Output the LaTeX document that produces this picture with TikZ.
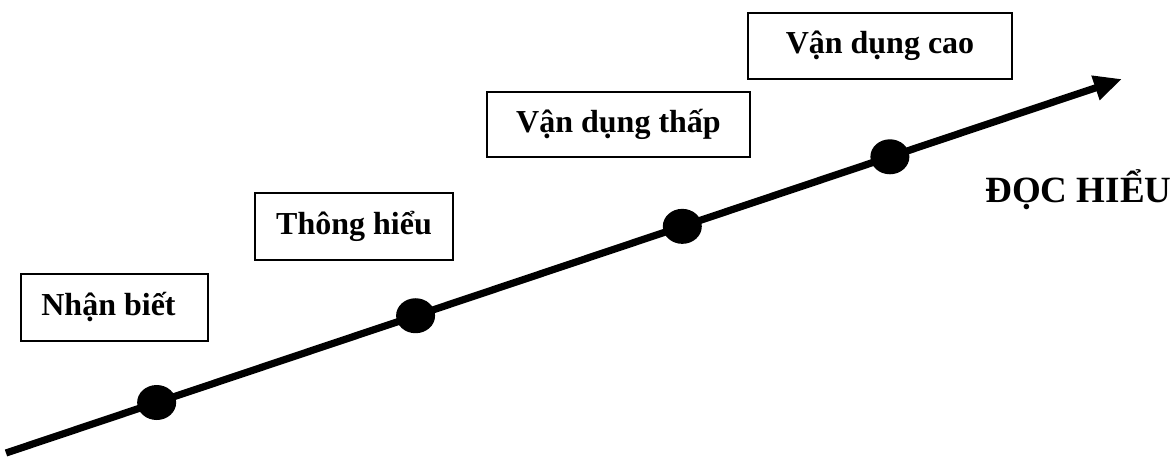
\documentclass[tikz,border=0pt]{standalone}
\usepackage{fontspec}
\setmainfont{Liberation Serif}
\usetikzlibrary{arrows.meta,positioning,shapes.geometric}
\tikzset{
  levelbox/.style={
    draw=black,fill=white,line width=1pt,
    inner sep=0pt,align=center,font=\bfseries\fontsize{16}{19}\selectfont
  },
  axis/.style={-{Triangle[length=14pt,width=12pt]},draw=black,line width=3.6pt},
  dot/.style={ellipse,fill=black,minimum width=19.5pt,minimum height=17.5pt,inner sep=0pt},
  axislabel/.style={font=\bfseries\fontsize{18.5}{22}\selectfont}
}
\begin{document}
\begin{tikzpicture}[x=0.5pt,y=-0.5pt]
\useasboundingbox (0,0) rectangle (1176,458);

\node[levelbox,minimum width=93.5pt,minimum height=33.5pt] (nhanbiet) at (114.5,307.5) {Nhận biết\hspace*{6pt}};
\node[levelbox,minimum width=99pt,minimum height=33.5pt] (thonghieu) at (354,226.5) {Thông hiểu};
\node[levelbox,minimum width=131.5pt,minimum height=32.5pt] (vdthap) at (618.5,124.5) {Vận dụng thấp};
\node[levelbox,minimum width=132pt,minimum height=33pt] (vdcao) at (880,46) {Vận dụng cao};

\coordinate (start) at (6,453);
\coordinate (tip) at (1122,79);
\draw[axis] (start) -- (tip)
  node[dot,pos=0.135] (d1) {}
  node[dot,pos=0.367] (d2) {}
  node[dot,pos=0.606] (d3) {}
  node[dot,pos=0.792] (d4) {};

\node[axislabel,anchor=base] (dochieu) at (1078.5,203) {ĐỌC HIỂU};
\end{tikzpicture}
\end{document}
